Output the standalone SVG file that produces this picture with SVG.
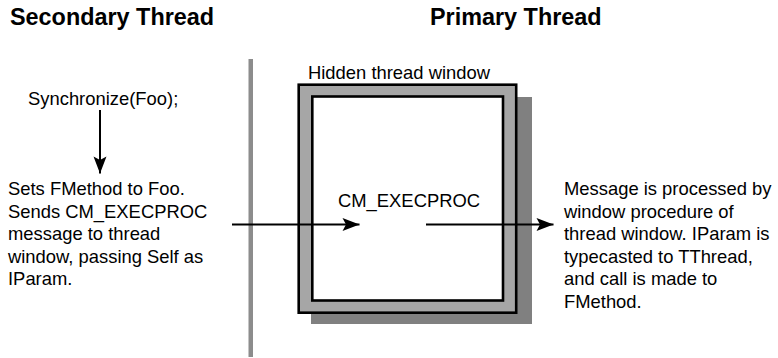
<svg xmlns="http://www.w3.org/2000/svg" width="778" height="358" viewBox="0 0 778 358">
<style>
text{font-family:"Liberation Sans",Arial,Helvetica,sans-serif;fill:#000;font-size:18.4px}
.title{font-weight:bold;font-size:23.4px}
.conn{stroke:#000;stroke-width:2;fill:none}
</style>
<defs>
<marker id="ah" markerUnits="userSpaceOnUse" markerWidth="20" markerHeight="16" viewBox="-18 -8 20 16" refX="0" refY="0" orient="auto">
<path d="M0,0 L-17,-6.5 L-13.5,0 L-17,6.5 Z" fill="#000"/>
</marker>
</defs>
<rect width="778" height="358" fill="#fff"/>
<g id="headers">
<text class="title" x="10" y="25">Secondary Thread</text>
<text class="title" x="430" y="25">Primary Thread</text>
</g>
<g id="divider">
<rect x="248.5" y="59" width="4.5" height="298" fill="#8c8c8c"/>
</g>
<g id="synchronize">
<text x="28" y="105">Synchronize(Foo);</text>
</g>
<g id="sets-fmethod">
<text x="8" y="195">Sets FMethod to Foo.</text>
<text x="8" y="217.6">Sends CM_EXECPROC</text>
<text x="8" y="240.2">message to thread</text>
<text x="8" y="262.8">window, passing Self as</text>
<text x="8" y="285.4">IParam.</text>
</g>
<g id="hidden-thread-window">
<text x="308" y="79">Hidden thread window</text>
<rect x="311" y="97" width="221" height="227" fill="#808080"/>
<rect x="298.7" y="84.7" width="217.5" height="228" fill="#a6a6a6" stroke="#000" stroke-width="2.6"/>
<rect x="312.3" y="96.5" width="190.7" height="204" fill="#fff" stroke="#000" stroke-width="2.6"/>
<text x="338" y="206.5">CM_EXECPROC</text>
</g>
<g id="message-processed">
<text x="564" y="195">Message is processed by</text>
<text x="564" y="217.6">window procedure of</text>
<text x="564" y="240.2">thread window. IParam is</text>
<text x="564" y="262.8">typecasted to TThread,</text>
<text x="564" y="285.4">and call is made to</text>
<text x="564" y="308">FMethod.</text>
</g>
<g id="connectors">
<line class="conn" x1="100" y1="110" x2="100" y2="173.5" marker-end="url(#ah)"/>
<line class="conn" x1="232" y1="224.5" x2="359.5" y2="224.5" marker-end="url(#ah)"/>
<line class="conn" x1="426" y1="224.5" x2="553.5" y2="224.5" marker-end="url(#ah)"/>
</g>
</svg>
